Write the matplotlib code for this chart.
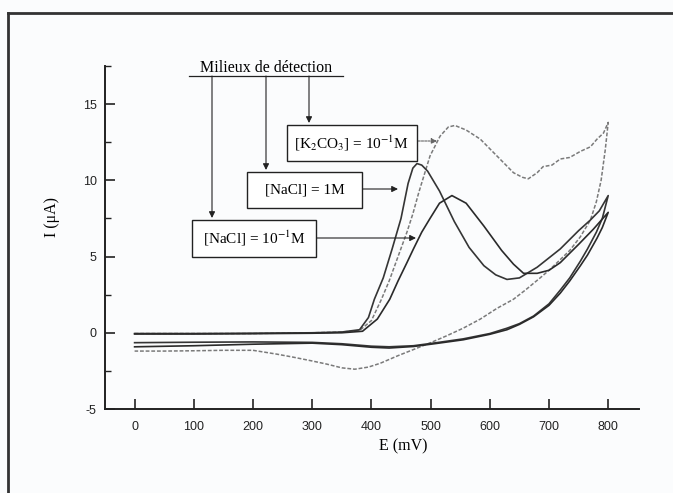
import numpy as np
import matplotlib.pyplot as plt
from matplotlib.patches import Rectangle
from matplotlib.lines import Line2D

# Voltammogrammes cycliques (E en mV, I en uA), aller puis retour
k2co3_e_fwd = [0, 100, 200, 300, 350, 380, 400, 417, 430, 445, 460, 470, 480, 499, 516, 530, 541,
               560, 584, 612, 640, 655, 665, 680, 690, 705, 719, 735, 753, 770, 781, 792, 800]
k2co3_i_fwd = [-0.05, -0.05, -0.05, 0.0, 0.05, 0.15, 0.8, 2.2, 3.4, 5.0, 6.6, 7.8, 9.2, 11.6, 12.9, 13.5, 13.6,
               13.3, 12.7, 11.6, 10.5, 10.2, 10.1, 10.5, 10.9, 11.0, 11.4, 11.5, 11.9, 12.2, 12.7, 13.1, 13.8]
k2co3_e_rev = [800, 795, 788, 780, 770, 753, 735, 719, 700, 685, 660, 640, 612, 584, 555, 527, 500,
               471, 445, 415, 395, 372, 350, 324, 300, 268, 240, 200, 150, 100, 50, 0]
k2co3_i_rev = [13.8, 12.0, 10.0, 8.6, 7.4, 6.3, 5.4, 4.8, 4.1, 3.6, 2.8, 2.2, 1.6, 0.9, 0.3, -0.2, -0.65,
               -1.1, -1.5, -2.0, -2.25, -2.39, -2.3, -2.05, -1.85, -1.6, -1.4, -1.15, -1.15, -1.18, -1.2, -1.2]

nacl1_e_fwd = [0, 100, 200, 300, 350, 380, 395, 405, 420, 435, 450, 462, 470, 477, 485, 495, 515,
               540, 565, 590, 610, 629, 650, 680, 719, 750, 770, 785, 800]
nacl1_i_fwd = [-0.05, -0.05, -0.03, 0.0, 0.05, 0.2, 1.0, 2.2, 3.6, 5.5, 7.5, 9.8, 10.8, 11.1, 11.0, 10.6, 9.3,
               7.3, 5.6, 4.4, 3.8, 3.5, 3.6, 4.3, 5.5, 6.7, 7.4, 8.0, 9.0]
nacl1_e_rev = [800, 790, 780, 765, 753, 735, 719, 700, 674, 650, 629, 600, 555, 510, 471, 430, 400,
               350, 300, 200, 100, 0]
nacl1_i_rev = [9.0, 7.5, 6.6, 5.5, 4.7, 3.6, 2.8, 1.9, 1.1, 0.6, 0.3, -0.05, -0.4, -0.65, -0.85, -0.92, -0.88,
               -0.72, -0.63, -0.6, -0.62, -0.65]

nacl01_e_fwd = [0, 100, 200, 300, 350, 385, 410, 431, 445, 460, 471, 485, 499, 515, 536, 560, 590,
                620, 640, 657, 680, 700, 719, 750, 775, 800]
nacl01_i_fwd = [-0.08, -0.08, -0.06, -0.03, 0.0, 0.1, 0.9, 2.2, 3.4, 4.6, 5.5, 6.6, 7.5, 8.5, 9.0, 8.5, 7.0,
                5.4, 4.5, 3.9, 3.9, 4.1, 4.6, 5.8, 6.8, 7.9]
nacl01_e_rev = [800, 790, 781, 765, 753, 735, 719, 700, 674, 650, 629, 600, 555, 510, 471, 430, 400,
                350, 300, 200, 100, 0]
nacl01_i_rev = [7.9, 6.9, 6.2, 5.1, 4.4, 3.4, 2.6, 1.8, 1.05, 0.55, 0.2, -0.1, -0.46, -0.7, -0.9, -1.0, -0.95,
                -0.78, -0.68, -0.75, -0.85, -0.92]

W, H = 673, 493

def P(x, y):
    # pixels de l'image -> fraction de figure
    return (x / W, 1 - y / H)

plt.rcParams['font.family'] = ['Liberation Serif', 'DejaVu Serif']
plt.rcParams['mathtext.fontset'] = 'stix'
plt.rcParams['axes.unicode_minus'] = False

fig = plt.figure(figsize=(W / 100, H / 100), dpi=100, facecolor='#fbfcfd')
ax = fig.add_axes([105 / W, 1 - 409 / H, (639 - 105) / W, (409 - 66) / H])
ax.set_facecolor('none')

ax.plot(k2co3_e_fwd + k2co3_e_rev, k2co3_i_fwd + k2co3_i_rev, color='#7a7a7a', lw=1.1, ls=(0, (2.5, 1.2)))
ax.plot(nacl1_e_fwd + nacl1_e_rev, nacl1_i_fwd + nacl1_i_rev, color='#353535', lw=1.2)
ax.plot(nacl01_e_fwd + nacl01_e_rev, nacl01_i_fwd + nacl01_i_rev, color='#2a2a2a', lw=1.2)

ax.set_xlim(-50, 852)
ax.set_ylim(-5, 17.5)
ax.set_xticks(np.arange(0, 801, 100))
ax.set_yticks([-5, 0, 5, 10, 15])
ax.set_yticks([-2.5, 2.5, 7.5, 12.5, 17.5], minor=True)
for s in ['top', 'right']:
    ax.spines[s].set_visible(False)
for s in ['left', 'bottom']:
    ax.spines[s].set_linewidth(1.4)
    ax.spines[s].set_color('#222222')
ax.tick_params(direction='in', length=7, width=1.2, colors='#222222', labelsize=9)
ax.tick_params(axis='x', pad=9)
ax.tick_params(axis='y', pad=6)
ax.tick_params(which='minor', direction='in', length=4, width=1.0, colors='#222222')
for lab in ax.get_xticklabels() + ax.get_yticklabels():
    lab.set_family('Liberation Sans')

ax.set_xlabel('E (mV)', fontsize=11.5)
ax.xaxis.set_label_coords((403 - 105) / 534, -0.085)
ax.set_ylabel('I (μA)', fontsize=11.5)
ax.yaxis.set_label_coords(-0.084, 0.56)

# cadre exterieur
fig.add_artist(Line2D([8 / W, 1], [1 - 13 / H] * 2, transform=fig.transFigure, color='#333333', lw=2))
fig.add_artist(Line2D([8 / W] * 2, [0, 1 - 13 / H], transform=fig.transFigure, color='#333333', lw=2))

# titre des fleches
fig.text(*P(266, 68), 'Milieux de détection', ha='center', va='center', fontsize=11.5)
fig.add_artist(Line2D([189 / W, 343 / W], [1 - 76 / H] * 2, transform=fig.transFigure, color='#222222', lw=0.9))

arrow = dict(arrowstyle='-|>', lw=0.8, color='#222222', mutation_scale=9, shrinkA=0, shrinkB=0)
for x, y_end in [(212, 218), (266, 170), (309, 123)]:
    ax.annotate('', xy=P(x, y_end), xycoords='figure fraction',
                xytext=P(x, 76), textcoords='figure fraction', arrowprops=arrow)

# boites
boxes = [
    (287, 125, 130, 36, '[K$_2$CO$_3$] = 10$^{-1}$M'),
    (247, 172, 115, 36, '[NaCl] = 1M'),
    (192, 220, 124, 37, '[NaCl] = 10$^{-1}$M'),
]
for x, y, w, h, txt in boxes:
    fig.add_artist(Rectangle(P(x, y + h), w / W, h / H, transform=fig.transFigure,
                             facecolor='white', edgecolor='#222222', lw=1.0))
    fig.text(*P(x + w / 2, y + h / 2), txt, ha='center', va='center', fontsize=11)

# fleches vers les courbes
ax.annotate('', xy=P(437, 141), xycoords='figure fraction', xytext=P(418, 141), textcoords='figure fraction',
            arrowprops=dict(arrowstyle='-|>', lw=0.8, color='#666666', ls=(0, (2, 1)),
                            mutation_scale=8, shrinkA=0, shrinkB=0))
ax.annotate('', xy=P(398, 189), xycoords='figure fraction', xytext=P(363, 189), textcoords='figure fraction',
            arrowprops=arrow)
ax.annotate('', xy=P(416, 238), xycoords='figure fraction', xytext=P(317, 238), textcoords='figure fraction',
            arrowprops=arrow)

fig.savefig('out.png', dpi=100, facecolor=fig.get_facecolor())
